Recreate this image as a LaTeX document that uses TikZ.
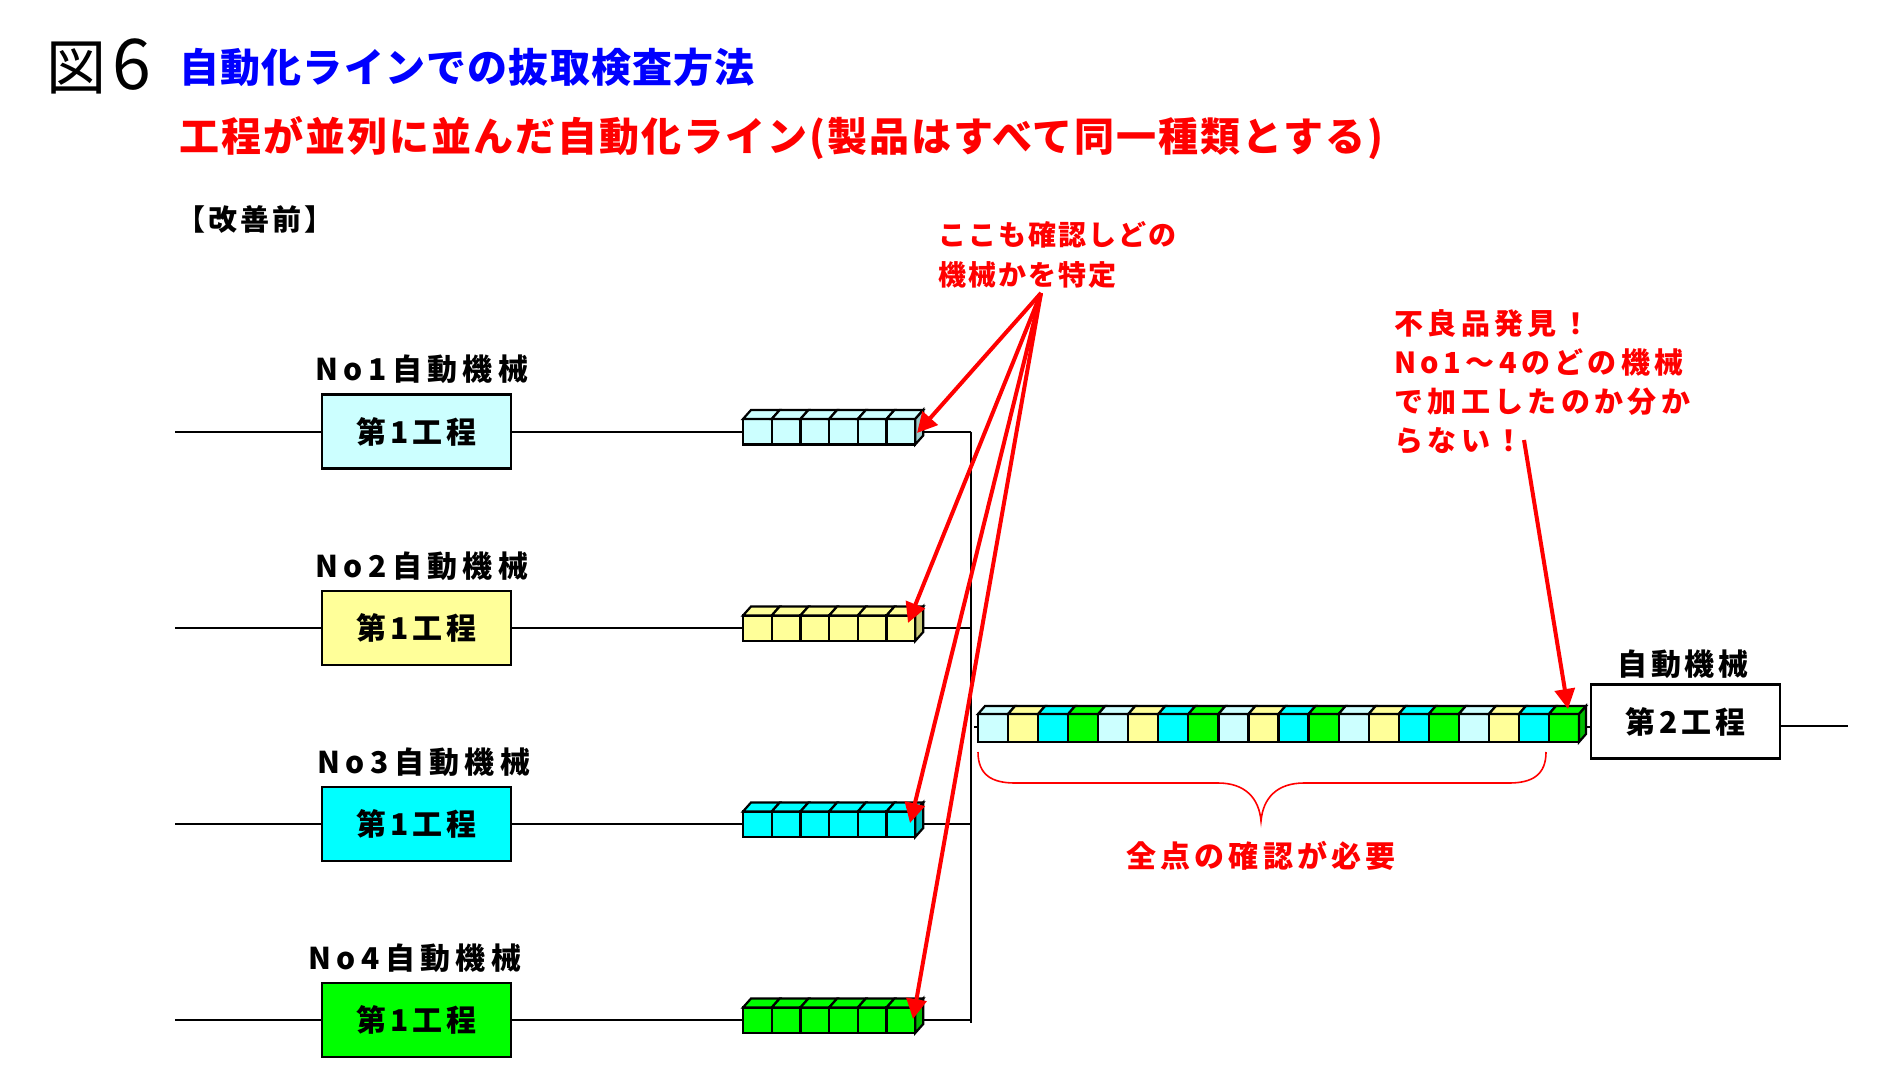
\documentclass[tikz,border=0pt]{standalone}
\usepackage{fontspec}
\setmainfont{Noto Sans CJK JP}
\usetikzlibrary{arrows.meta}
\definecolor{lc}{HTML}{CCFFFF}
\definecolor{ly}{HTML}{FFFF99}
\definecolor{cy}{HTML}{00FFFF}
\definecolor{gr}{HTML}{00FF00}
\definecolor{lcS}{HTML}{99CCCC}
\definecolor{lyS}{HTML}{CCCC77}
\definecolor{cyS}{HTML}{00BBBB}
\definecolor{grS}{HTML}{00BB00}
\definecolor{tblue}{HTML}{0000FF}
\definecolor{tred}{HTML}{FF0000}
\newcommand\ls[1]{\addfontfeatures{LetterSpace=#1}}
\begin{document}
\begin{tikzpicture}[x=0.5pt,y=-0.5pt,
  wire/.style={line width=1pt,black},
  cube/.style={line width=1.1pt,draw=black,line join=miter},
  procbox/.style={draw=black,line width=1.1pt,minimum width=94.5pt,minimum height=37pt,inner sep=0pt,
     font=\fontsize{15pt}{18pt}\selectfont\bfseries\ls{14}},
  mlabel/.style={inner sep=0pt,font=\fontsize{15pt}{18pt}\selectfont\bfseries\ls{18}},
  m2label/.style={inner sep=0pt,font=\fontsize{15pt}{18pt}\selectfont\bfseries\ls{13}},
  note/.style={inner sep=0pt,text=tred,align=left,anchor=north west},
  redarrow/.style={draw=tred,line width=2pt,-{Triangle[length=10pt,width=10pt]}},
  brace/.style={draw=tred,line width=0.8pt}]
\useasboundingbox (0,0) rectangle (1898,1064);

% titles
\node[inner sep=0pt,anchor=west,font=\fontsize{30pt}{34pt}\selectfont] (fig) at (46,66) {図\hspace{3pt}{\fontsize{35pt}{36pt}\selectfont 6}};
\node[inner sep=0pt,anchor=west,text=tblue,font=\fontsize{20pt}{24pt}\selectfont\bfseries\ls{3}] (t1) at (179,67) {自動化ラインでの抜取検査方法};
\node[inner sep=0pt,anchor=west,text=tred,font=\fontsize{20pt}{24pt}\selectfont\bfseries\ls{5}] (t2) at (179,138) {工程が並列に並んだ自動化ライン(製品はすべて同一種類とする)};
\node[inner sep=0pt,anchor=west,font=\fontsize{14.5pt}{16pt}\selectfont\bfseries\ls{10}] (t3) at (176,220) {【改善前】};

% rows
\foreach \i/\y/\c/\cs/\lx in {1/431.5/lc/lcS/422,2/628/ly/lyS/422,3/824/cy/cyS/424,4/1020/gr/grS/415}{
  \node[procbox,fill=\c] (p\i) at (416.5,\y) {第1工程};
  \node[mlabel] (m\i) at (\lx,\y-62) {No\i 自動機械};
  \coordinate (in\i) at (175,\y);
  \coordinate (cl\i) at (743,\y);
  \coordinate (cr\i) at (923,\y);
  \coordinate (bus\i) at (970.7,\y);
  \draw[wire] (in\i) -- (p\i.west);
  \draw[wire] (p\i.east) -- (cl\i);
  \draw[wire] (cr\i) -- (bus\i);
  \foreach \k in {0,...,5}{
    \pgfmathsetmacro\xa{743+\k*28.7}
    \pgfmathsetmacro\xb{743+(\k+1)*28.7}
    \filldraw[cube,fill=\c] (\xa,\y-12.5) rectangle (\xb,\y+13);
    \filldraw[cube,fill=\c] (\xa,\y-12.5) -- (\xa+8,\y-21.5) -- (\xb+8,\y-21.5) -- (\xb,\y-12.5) -- cycle;
  }
  \filldraw[cube,fill=\cs] (915.2,\y-12.5) -- (923.2,\y-21.5) -- (923.2,\y+4) -- (915.2,\y+13) -- cycle;
}
\draw[wire] (bus1) -- (970.7,1023);

% long conveyor
\coordinate (stubA) at (974,727);
\coordinate (lcl) at (978,727);
\coordinate (lcr) at (1585,727);
\draw[wire] (stubA) -- (lcl);
\foreach \k in {0,...,19}{
  \pgfmathtruncatemacro\m{mod(\k,4)}
  \ifcase\m \def\cc{lc}\or\def\cc{ly}\or\def\cc{cy}\or\def\cc{gr}\fi
  \pgfmathsetmacro\xa{978+\k*30.05}
  \pgfmathsetmacro\xb{978+(\k+1)*30.05}
  \filldraw[cube,fill=\cc] (\xa,714) rectangle (\xb,742);
  \filldraw[cube,fill=\cc] (\xa,714) -- (\xa+7,706) -- (\xb+7,706) -- (\xb,714) -- cycle;
}
\filldraw[cube,fill=grS] (1579,714) -- (1586,706) -- (1586,734) -- (1579,742) -- cycle;

% second process
\node[procbox,fill=white] (p5) at (1685.5,721.5) {第2工程};
\node[m2label] (m5) at (1683,664) {自動機械};
\coordinate (out5) at (1848,726);
\draw[wire] (lcr) -- (p5.west |- lcr);
\draw[wire] (p5.east |- out5) -- (out5);

% brace
\coordinate (brL) at (978,752);
\coordinate (brR) at (1546,752);
\coordinate (brT) at (1261,821);
\draw[brace] (brL) .. controls (978,775) and (992,783) .. (1015,783) -- (1218,783)
  .. controls (1245,783) and (1259,798) .. (brT)
  .. controls (1263,798) and (1277,783) .. (1304,783) -- (1509,783)
  .. controls (1532,783) and (1546,775) .. (brR);
\node[inner sep=0pt,text=tred,font=\fontsize{15pt}{18pt}\selectfont\bfseries\ls{14}] (all) at (1261,856) {全点の確認が必要};

% annotations
\node[note,font=\fontsize{14pt}{20pt}\selectfont\bfseries\ls{7}] (n1) at (938,221) {ここも確認しどの\\機械かを特定};
\node[note,font=\fontsize{14.5pt}{19.5pt}\selectfont\bfseries\ls{15}] (n2) at (1394,309) {不良品発見！\\No1～4のどの機械\\で加工したのか分か\\らない！};

\coordinate (src1) at (1041,293);
\coordinate (src2) at (1524,440);
\coordinate (tg1) at (917,433);
\coordinate (tg2) at (908,623);
\coordinate (tg3) at (910,823);
\coordinate (tg4) at (913,1019);
\coordinate (tg5) at (1568,709);
\draw[redarrow] (src1) -- (tg1);
\draw[redarrow] (src1) -- (tg2);
\draw[redarrow] (src1) -- (tg3);
\draw[redarrow] (src1) -- (tg4);
\draw[redarrow] (src2) -- (tg5);
\end{tikzpicture}
\end{document}
